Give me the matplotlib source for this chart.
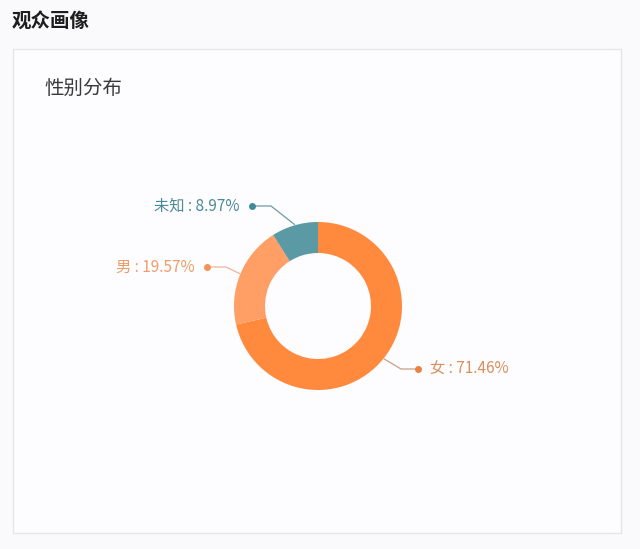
import numpy as np
import matplotlib.pyplot as plt
from matplotlib.patches import Rectangle

plt.rcParams['font.family'] = ['Noto Sans CJK SC', 'DejaVu Sans']

# 数据
genders = ['女', '男', '未知']
shares = [71.46, 19.57, 8.97]

# 样式
slice_colors = ['#FF8A3D', '#FF9F66', '#5B9AA4']
text_colors = ['#D98F5C', '#EE9C68', '#4A8B96']
line_colors = ['#C9A086', '#EDB696', '#6C9CA4']
dot_colors = ['#E8843F', '#F59256', '#3F8C98']
label_pos = [(418, 369), (207, 267), (252, 206)]   # 圆点位置（像素，y 向下）

W, H = 640, 549
fig = plt.figure(figsize=(W / 100, H / 100), dpi=100, facecolor='#FAF9FB')
ax = fig.add_axes([0, 0, 1, 1])


def Y(y):
    return H - y


# 卡片背景
ax.add_patch(Rectangle((13, Y(533)), 608, 484, facecolor='#FDFCFE',
                       edgecolor='#E6E5EA', linewidth=1, zorder=0))

cx, cy, R = 318, Y(306), 84
wedges, _ = ax.pie(
    shares,
    colors=slice_colors,
    startangle=90,
    counterclock=False,
    center=(cx, cy),
    radius=R,
    wedgeprops=dict(width=31, edgecolor='none', linewidth=0),
)

# 引导线 + 标签
for w, name, v, (px, py), tc, lc, dc in zip(wedges, genders, shares, label_pos,
                                            text_colors, line_colors, dot_colors):
    mid = np.deg2rad((w.theta1 + w.theta2) / 2)
    ex, ey = cx + (R + 1) * np.cos(mid), cy + (R + 1) * np.sin(mid)
    right = px > cx
    elbow_x = px - 17 if right else px + 19
    ax.plot([ex, elbow_x, px], [ey, Y(py), Y(py)], color=lc, lw=0.9, zorder=3)
    ax.plot(px, Y(py), 'o', ms=4, color=dc, zorder=4)
    tx = px + 12 if right else px - 12
    ax.text(tx, Y(py), f'{name} : {v:.2f}%', color=tc, fontsize=11,
            ha='left' if right else 'right', va='center')

ax.text(12, Y(22), '观众画像', fontsize=14, fontweight='bold', color='#1E1E1E',
        ha='left', va='center')
ax.text(44, Y(88), '性别分布', fontsize=14, color='#3A3A3A',
        ha='left', va='center')

ax.set_xlim(0, W)
ax.set_ylim(0, H)
ax.set_aspect('equal')
ax.axis('off')

fig.savefig('out.png', dpi=100, facecolor=fig.get_facecolor())
